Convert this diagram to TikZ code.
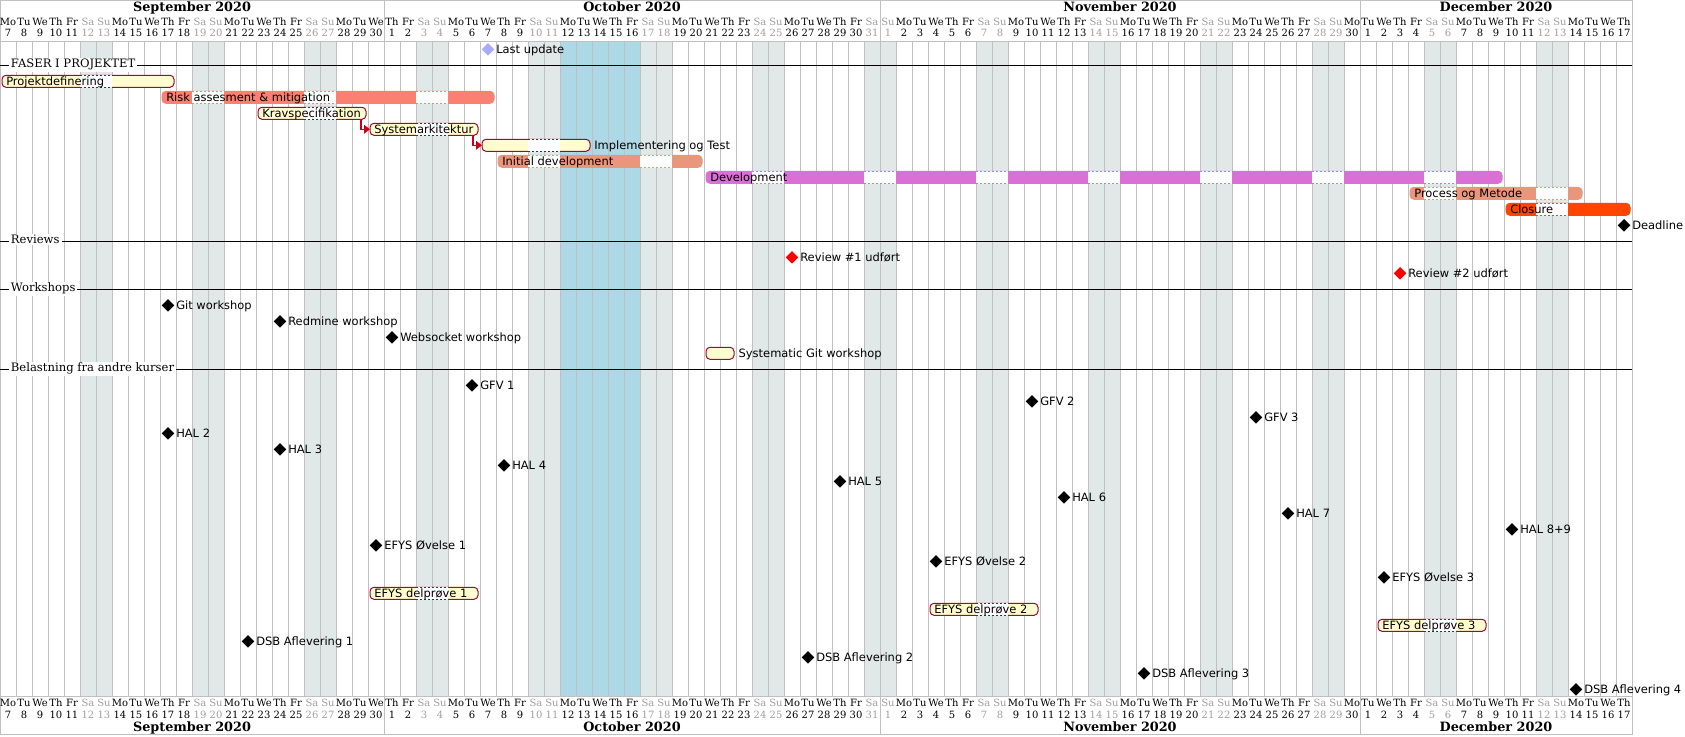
\documentclass[tikz,border=0pt]{standalone}
\usepackage{fontspec}
\setmainfont{DejaVu Sans}
\newfontfamily\headfont{DejaVu Serif}
\usetikzlibrary{shapes.geometric,arrows.meta,calc}

\definecolor{taskyellow}{HTML}{FEFECE}
\definecolor{taskline}{HTML}{A80036}
\definecolor{deparrow}{RGB}{200,0,30}
\definecolor{weekend}{RGB}{224,232,232}
\definecolor{wkendtext}{RGB}{160,160,160}
\definecolor{gridgray}{RGB}{192,192,192}
\definecolor{salmon}{HTML}{FA8072}
\definecolor{darksalmon}{HTML}{E9967A}
\definecolor{orchid}{HTML}{DA70D6}
\definecolor{orangered}{HTML}{FF4500}
\definecolor{lightblue}{HTML}{ADD8E6}
\definecolor{lastupd}{RGB}{170,170,250}

% first day, last day, row, fill, line, name
\newcommand{\taskbar}[6]{%
  \draw[fill=#4, draw=#5, line width=0.75pt, rounded corners=3pt]
    (#1+0.125,#3-6) rectangle (#2+0.875,#3+6);
  \foreach \k in {#1,...,#2}{%
    \pgfmathtruncatemacro\wkd{mod(\k,7)}%
    \ifnum\wkd>4
      \fill[white] (\k,#3-6.7) rectangle (\k+1,#3+6.7);
      \draw[draw=#5, gapline] (\k,#3-6) -- (\k+1,#3-6) (\k,#3+6) -- (\k+1,#3+6);
    \fi}%
  \coordinate (#6-w) at (#1+0.125,#3);
  \coordinate (#6-e) at (#2+0.875,#3);
  \coordinate (#6-d) at (#2+0.5625,#3+6);
}
% name, x, row, text
\newcommand{\tasklabel}[4]{\node[tasktext] (#1) at (#2,#3+3.9) {#4};}
% name, day, row, colour, text
\newcommand{\milestone}[5]{%
  \node[ms, fill=#4] (#1) at (#2+0.5,#3) {};
  \node[tasktext] (#1-t) at (#2+1,#3+3.9) {#5};
}

\begin{document}
\begin{tikzpicture}[x=12pt, y=-0.75pt,
    tasktext/.style={font=\fontsize{8.6pt}{10pt}\selectfont, anchor=base west, inner sep=0pt},
    ms/.style={diamond, inner sep=0pt, minimum width=9.6pt, minimum height=9.6pt},
    gapline/.style={line width=0.75pt, dash pattern=on 1.5pt off 1.5pt},
    dep/.style={draw=deparrow, line width=1pt, -{Triangle[length=4.5pt,width=6.5pt]}},
    grid line/.style={draw=gridgray, line width=0.75pt},
    dayname/.style={font=\headfont\fontsize{7.5pt}{9pt}\selectfont, anchor=base, inner sep=0pt},
    monthname/.style={font=\headfont\bfseries\fontsize{9.6pt}{11pt}\selectfont, anchor=base, inner sep=0pt},
    section/.style={font=\headfont\fontsize{8.7pt}{10pt}\selectfont, anchor=base west, fill=white, inner xsep=1.5pt, inner ysep=1pt},
    sepline/.style={draw=black, line width=0.75pt}]

  \useasboundingbox[fill=white] (0,0) rectangle (105.3125,736);

  % calendar background
  \foreach \k in {0,...,101}{%
    \pgfmathtruncatemacro\wkd{mod(\k,7)}%
    \ifnum\wkd>4 \fill[weekend] (\k,41.3) rectangle (\k+1,696.7); \fi}
  \fill[lightblue] (35,41.3) rectangle (40,696.7);
  \foreach \k in {0,...,102} \draw[grid line] (\k,41.3) -- (\k,696.7);

  % header and footer
  \draw[grid line] (0,0.5) rectangle (102,41.3);
  \draw[grid line] (0,696.7) rectangle (102,734);
  \foreach \m in {24,55,85}{%
    \draw[grid line] (\m,0.5) -- (\m,41.3);
    \draw[grid line] (\m,696.7) -- (\m,734);}
  \foreach \k in {0,...,101}{%
    \pgfmathtruncatemacro\wkd{mod(\k,7)}%
    \pgfmathtruncatemacro\num{\k<24 ? \k+7 : (\k<55 ? \k-23 : (\k<85 ? \k-54 : \k-84))}%
    \ifnum\wkd>4 \def\dcol{wkendtext}\else\def\dcol{black}\fi
    \node[dayname, text=\dcol] (hn\k) at (\k+0.5,25.7) {\ifcase\wkd Mo\or Tu\or We\or Th\or Fr\or Sa\or Su\fi};
    \node[dayname, text=\dcol] (hd\k) at (\k+0.5,36.5) {\num};
    \node[dayname, text=\dcol] (fn\k) at (\k+0.5,706.6) {\ifcase\wkd Mo\or Tu\or We\or Th\or Fr\or Sa\or Su\fi};
    \node[dayname, text=\dcol] (fd\k) at (\k+0.5,718.2) {\num};}
  \node[monthname] (hsep) at (12,11) {September 2020};
  \node[monthname] (hoct) at (39.5,11) {October 2020};
  \node[monthname] (hnov) at (70,11) {November 2020};
  \node[monthname] (hdec) at (93.5,11) {December 2020};
  \node[monthname] (fsep) at (12,731.2) {September 2020};
  \node[monthname] (foct) at (39.5,731.2) {October 2020};
  \node[monthname] (fnov) at (70,731.2) {November 2020};
  \node[monthname] (fdec) at (93.5,731.2) {December 2020};

  % sections
  \draw[sepline] (0,65.3) -- (102,65.3);
  \draw[sepline] (0,241.3) -- (102,241.3);
  \draw[sepline] (0,289.3) -- (102,289.3);
  \draw[sepline] (0,369.3) -- (102,369.3);
  \node[section] (faser) at (0.544,67.8) {FASER I PROJEKTET};
  \node[section] (reviews) at (0.544,243.8) {Reviews};
  \node[section] (workshops) at (0.544,291.8) {Workshops};
  \node[section] (belast) at (0.544,371.8) {Belastning fra andre kurser};

  \milestone{lastupdate}{30}{49.3}{lastupd}{Last update}

  % faser
  \taskbar{0}{10}{81.3}{taskyellow}{taskline}{projekt}
  \taskbar{10}{30}{97.3}{salmon}{salmon}{risk}
  \taskbar{16}{22}{113.3}{taskyellow}{taskline}{krav}
  \taskbar{23}{29}{129.3}{taskyellow}{taskline}{sys}
  \taskbar{30}{36}{145.3}{taskyellow}{taskline}{impl}
  \taskbar{31}{43}{161.3}{darksalmon}{darksalmon}{initdev}
  \taskbar{44}{93}{177.3}{orchid}{orchid}{dev}
  \taskbar{88}{98}{193.3}{darksalmon}{darksalmon}{process}
  \taskbar{94}{101}{209.3}{orangered}{orangered}{closure}
  \draw[dep] (krav-d) |- (sys-w);
  \draw[dep] (sys-d) |- (impl-w);
  \tasklabel{projekt-t}{0.375}{81.3}{Projektdefinering}
  \tasklabel{risk-t}{10.375}{97.3}{Risk assesment \& mitigation}
  \tasklabel{krav-t}{16.375}{113.3}{Kravspecifikation}
  \tasklabel{sys-t}{23.375}{129.3}{Systemarkitektur}
  \tasklabel{impl-t}{37.125}{145.3}{Implementering og Test}
  \tasklabel{initdev-t}{31.375}{161.3}{Initial development}
  \tasklabel{dev-t}{44.375}{177.3}{Development}
  \tasklabel{process-t}{88.375}{193.3}{Process og Metode}
  \tasklabel{closure-t}{94.375}{209.3}{Closure}
  \milestone{deadline}{101}{225.3}{black}{Deadline}

  % reviews
  \milestone{review1}{49}{257.3}{red}{Review \#1 udført}
  \milestone{review2}{87}{273.3}{red}{Review \#2 udført}

  % workshops
  \milestone{gitws}{10}{305.3}{black}{Git workshop}
  \milestone{redmine}{17}{321.3}{black}{Redmine workshop}
  \milestone{websocket}{24}{337.3}{black}{Websocket workshop}
  \taskbar{44}{45}{353.3}{taskyellow}{taskline}{sysgit}
  \tasklabel{sysgit-t}{46.15}{353.3}{Systematic Git workshop}

  % belastning
  \milestone{gfv1}{29}{385.3}{black}{GFV 1}
  \milestone{gfv2}{64}{401.3}{black}{GFV 2}
  \milestone{gfv3}{78}{417.3}{black}{GFV 3}
  \milestone{hal2}{10}{433.3}{black}{HAL 2}
  \milestone{hal3}{17}{449.3}{black}{HAL 3}
  \milestone{hal4}{31}{465.3}{black}{HAL 4}
  \milestone{hal5}{52}{481.3}{black}{HAL 5}
  \milestone{hal6}{66}{497.3}{black}{HAL 6}
  \milestone{hal7}{80}{513.3}{black}{HAL 7}
  \milestone{hal89}{94}{529.3}{black}{HAL 8+9}
  \milestone{efys1}{23}{545.3}{black}{EFYS Øvelse 1}
  \milestone{efys2}{58}{561.3}{black}{EFYS Øvelse 2}
  \milestone{efys3}{86}{577.3}{black}{EFYS Øvelse 3}
  \taskbar{23}{29}{593.3}{taskyellow}{taskline}{delp1}
  \taskbar{58}{64}{609.3}{taskyellow}{taskline}{delp2}
  \taskbar{86}{92}{625.3}{taskyellow}{taskline}{delp3}
  \tasklabel{delp1-t}{23.375}{593.3}{EFYS delprøve 1}
  \tasklabel{delp2-t}{58.375}{609.3}{EFYS delprøve 2}
  \tasklabel{delp3-t}{86.375}{625.3}{EFYS delprøve 3}
  \milestone{dsb1}{15}{641.3}{black}{DSB Aflevering 1}
  \milestone{dsb2}{50}{657.3}{black}{DSB Aflevering 2}
  \milestone{dsb3}{71}{673.3}{black}{DSB Aflevering 3}
  \milestone{dsb4}{98}{689.3}{black}{DSB Aflevering 4}
\end{tikzpicture}
\end{document}
